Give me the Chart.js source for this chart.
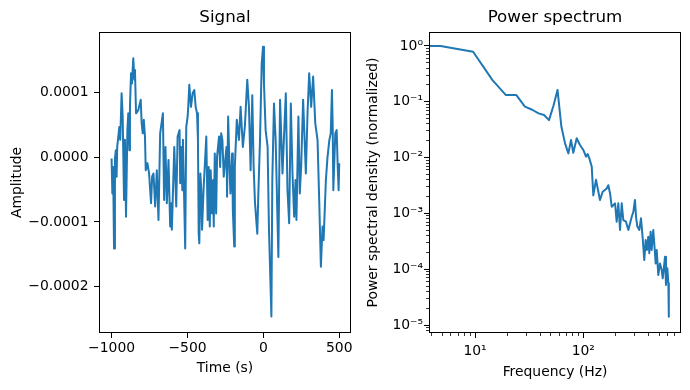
<!DOCTYPE html>
<html>
<head>
<meta charset="utf-8">
<script src="https://cdn.jsdelivr.net/npm/chart.js@4.4.1/dist/chart.umd.min.js"></script>
<style>
    html, body { margin: 0; padding: 0; background: #fff; }
    body { width: 690px; height: 390px; position: relative; overflow: hidden; }
    #signalChart { position: absolute; left: 0; top: 0; }
    #spectrumChart { position: absolute; left: 340px; top: 0; }
</style>
</head>
<body>
<canvas id="signalChart" width="360" height="390"></canvas>
<canvas id="spectrumChart" width="350" height="390"></canvas>
<script>
// Signal (time in s, amplitude)
const times = [
    -1000, -995, -990, -984, -978, -972, -967, -963, -949, -943,
    -934, -927, -918, -912, -905, -896, -890, -883, -879, -872,
    -866, -857, -850, -846, -839, -824, -808, -802, -795, -788,
    -780, -775, -764, -753, -740, -733, -724, -713, -702, -691,
    -680, -662, -654, -645, -636, -625, -614, -607, -603, -587,
    -581, -574, -565, -552, -548, -541, -534, -530, -515, -508,
    -499, -495, -488, -477, -466, -455, -446, -437, -431, -426,
    -422, -415, -409, -404, -393, -376, -367, -360, -353, -347,
    -338, -331, -327, -320, -311, -305, -292, -285, -278, -270,
    -261, -243, -239, -232, -223, -217, -206, -201, -192, -188,
    -175, -161, -150, -135, -122, -106, -95, -84, -73, -64,
    -55, -40, -33, -22, -11, -2, 4, 15, 28, 37,
    53, 59, 70, 81, 99, 110, 126, 137, 148, 159,
    170, 181, 192, 203, 212, 218, 231, 240, 249, 262,
    280, 291, 302, 315, 328, 342, 357, 368, 379, 390,
    397, 412, 423, 435, 444, 452, 457, 461, 474, 483,
    490, 496, 500
];
const amplitude = [
    -0.02e-4, -0.56e-4, -0.15e-4, -1.41e-4, -0.02e-4, 0.11e-4, -0.30e-4, 0.16e-4, 0.47e-4, 0.27e-4,
    0.99e-4, 0.63e-4, -0.66e-4, 0.27e-4, -0.92e-4, 0.42e-4, 0.68e-4, 0.11e-4, 0.78e-4, 1.30e-4,
    1.14e-4, 1.53e-4, 1.20e-4, 1.35e-4, 0.68e-4, 0.73e-4, 0.89e-4, 0.53e-4, 0.37e-4, 0.58e-4,
    0.32e-4, -0.20e-4, -0.09e-4, -0.25e-4, -0.71e-4, -0.30e-4, -0.25e-4, -0.76e-4, -0.20e-4, -0.97e-4,
    0.37e-4, 0.68e-4, -0.66e-4, 0.16e-4, -0.71e-4, -0.04e-4, -1.07e-4, -0.71e-4, -1.12e-4, 0.16e-4,
    -0.25e-4, -0.76e-4, 0.32e-4, 0.42e-4, -0.40e-4, 0.16e-4, -0.51e-4, 0.27e-4, -1.41e-4, 0.47e-4,
    0.63e-4, 0.78e-4, 1.12e-4, 0.78e-4, 0.99e-4, 1.04e-4, 0.78e-4, 0.68e-4, 0.27e-4, -1.18e-4,
    -1.33e-4, -0.25e-4, -0.51e-4, -1.12e-4, -0.45e-4, 0.32e-4, -0.97e-4, -0.15e-4, -1.07e-4, -0.20e-4,
    -0.87e-4, -0.35e-4, -1.07e-4, 0.06e-4, -0.87e-4, 0.01e-4, 0.32e-4, -0.15e-4, 0.37e-4, 0.27e-4,
    -0.30e-4, 0.16e-4, -0.61e-4, 0.63e-4, -0.15e-4, -0.56e-4, 0.06e-4, -0.82e-4, -1.38e-4, -0.15e-4,
    0.58e-4, 0.27e-4, 0.78e-4, 0.16e-4, 0.47e-4, 1.20e-4, 0.78e-4, -0.20e-4, 0.96e-4, -0.15e-4,
    -0.71e-4, -1.18e-4, -0.56e-4, 0.27e-4, 1.45e-4, 1.71e-4, 1.14e-4, 0.42e-4, 0.16e-4, -1.12e-4,
    -2.46e-4, -0.35e-4, 0.83e-4, 0.27e-4, -1.54e-4, 0.89e-4, -0.25e-4, 0.37e-4, 0.99e-4, -0.51e-4,
    -1.02e-4, 0.83e-4, -0.25e-4, -0.92e-4, -0.35e-4, -0.97e-4, 0.63e-4, -0.56e-4, -0.15e-4, 0.89e-4,
    -0.25e-4, 0.68e-4, 1.30e-4, 0.78e-4, 1.25e-4, 0.53e-4, 0.27e-4, -0.66e-4, -1.69e-4, -1.07e-4,
    -1.28e-4, -0.35e-4, 0.01e-4, 0.27e-4, 0.37e-4, 1.04e-4, 0.47e-4, -0.51e-4, 0.37e-4, 0.42e-4,
    -0.15e-4, -0.51e-4, -0.09e-4
];
const timeTicks = [-1000, -500, 0, 500];
const timeTickLabels = ['\u22121000', '\u2212500', '0', '500'];
const ampTicks = [-0.0002, -0.0001, 0, 0.0001];
const ampTickLabels = ['\u22120.0002', '\u22120.0001', '0.0000', '0.0001'];

// Power spectrum (frequency in Hz, normalized PSD)
const frequencies = [
    0, 4.8, 9.6, 14.5, 19.3, 24.1, 28.9, 33.7, 38.6, 43.4,
    48.2, 53.0, 57.8, 62.7, 67.8, 72.8, 77.0, 80.8, 86.9, 93.2,
    100, 105.9, 109.8, 113.6, 119.6, 123.7, 130.9, 142.6, 151, 164.3,
    170.2, 176.5, 182.9, 196.3, 203.3, 210.4, 218.3, 226.3, 234, 247.8,
    260.6, 280, 289.7, 300, 306.7, 315.5, 329, 341, 353.5, 365.7,
    376.7, 387, 398, 406.6, 418.6, 427.6, 442.6, 452, 465.6, 476,
    492.5, 510.5, 529.6, 541, 556, 568, 580, 597, 610, 616
];
const psd = [
    1.0, 1.0, 0.79, 0.245, 0.132, 0.132, 0.082, 0.072, 0.062, 0.058,
    0.047, 0.085, 0.163, 0.036, 0.018, 0.0119, 0.0207, 0.0122, 0.0222, 0.0168,
    0.0137, 0.0104, 0.0116, 0.0097, 0.0069, 0.0021, 0.0040, 0.00174, 0.00245, 0.0028,
    0.0032, 0.0023, 0.00132, 0.00151, 0.00071, 0.00152, 0.000505, 0.00152, 0.00076, 0.00071,
    0.000505, 0.00087, 0.00107, 0.00174, 0.00087, 0.00058, 0.000505, 0.00082, 0.000357, 0.000146,
    0.000333, 0.000221, 0.000383, 0.000193, 0.000471, 0.000221, 0.000505, 0.000291, 0.000127, 0.000221,
    0.0000787, 0.000127, 0.0000968, 0.0000687, 0.000111, 0.000167, 0.0000521, 0.000104, 0.0000558, 0.0000141
];
const freqTicks = [10, 100];
const freqTickLabels = ['10\u00b9', '10\u00b2'];
const psdTicks = [1e-5, 1e-4, 1e-3, 1e-2, 1e-1, 1];
const psdTickLabels = ['10\u207b\u2075', '10\u207b\u2074', '10\u207b\u00b3', '10\u207b\u00b2', '10\u207b\u00b9', '10\u2070'];

const FONT = "'DejaVu Sans', sans-serif";
Chart.defaults.font.family = FONT;
Chart.defaults.font.size = 13.9;
Chart.defaults.color = '#000';

// minor ticks of a log axis between lo and hi (2..9 x 10^n)
function logMinorTicks(lo, hi) {
    const out = [];
    for (let e = Math.floor(Math.log10(lo)); e <= Math.ceil(Math.log10(hi)); e++) {
        for (let m = 2; m <= 9; m++) {
            const v = m * Math.pow(10, e);
            if (v >= lo && v <= hi) out.push({ value: v });
        }
    }
    return out;
}

// box around the axes like matplotlib spines
const framePlugin = {
    id: 'frame',
    afterDatasetsDraw(chart) {
        const { ctx, chartArea: a } = chart;
        ctx.save();
        ctx.strokeStyle = '#000';
        ctx.lineWidth = 1;
        ctx.strokeRect(a.left + 0.5, a.top + 0.5, a.right - a.left - 1, a.bottom - a.top - 1);
        ctx.restore();
    }
};

const tickGrid = (len, width) => ({
    display: true,
    drawOnChartArea: false,
    drawTicks: true,
    tickLength: len,
    tickColor: '#000',
    tickWidth: width
});

const titleAxis = (text) => ({
    type: 'linear',
    position: 'top',
    display: true,
    ticks: { display: false },
    grid: { display: false },
    border: { display: false },
    title: { display: true, text: text, font: { size: 16.7 }, padding: { top: 7.4, bottom: 0 } },
    afterFit: s => { s.height = 32; }
});

const baseOptions = {
    responsive: false,
    devicePixelRatio: 1,
    animation: false,
    events: [],
    plugins: { legend: { display: false }, tooltip: { enabled: false } }
};

// Signal chart
new Chart(document.getElementById('signalChart'), {
    type: 'line',
    data: {
        datasets: [{
            data: times.map((t, i) => ({ x: t, y: amplitude[i] })),
            borderColor: '#1f77b4',
            borderWidth: 2,
            borderJoinStyle: 'round',
            pointRadius: 0,
            tension: 0,
            clip: 0,
            xAxisID: 'x',
            yAxisID: 'y'
        }]
    },
    options: {
        ...baseOptions,
        layout: { padding: { left: 0, right: 9, top: 0, bottom: 0 } },
        scales: {
            top: titleAxis('Signal'),
            x: {
                type: 'linear',
                position: 'bottom',
                min: -1083,
                max: 577.5,
                afterBuildTicks: s => { s.ticks = timeTicks.map(v => ({ value: v })); },
                ticks: { autoSkip: false, maxRotation: 0, padding: 2, callback: (v, i) => timeTickLabels[i] },
                grid: tickGrid(5, 1),
                border: { display: false },
                title: { display: true, text: 'Time (s)', padding: { top: 0, bottom: 13.3 } },
                afterFit: s => { s.height = 57; }
            },
            y: {
                type: 'linear',
                position: 'left',
                min: -2.716e-4,
                max: 1.937e-4,
                afterBuildTicks: s => { s.ticks = ampTicks.map(v => ({ value: v })); },
                ticks: { autoSkip: false, padding: 5.5, callback: (v, i) => ampTickLabels[i] },
                grid: tickGrid(5, 1),
                border: { display: false },
                title: { display: true, text: 'Amplitude', padding: { top: 8.6, bottom: 0 } },
                afterFit: s => { s.width = 99; }
            }
        }
    },
    plugins: [framePlugin]
});

// Power spectrum chart
const fMin = 3.76, fMax = 798;
const pMin = 7.2e-6, pMax = 1.78;
new Chart(document.getElementById('spectrumChart'), {
    type: 'line',
    data: {
        datasets: [{
            data: frequencies.map((f, i) => ({ x: f, y: psd[i] })),
            borderColor: '#1f77b4',
            borderWidth: 2,
            borderJoinStyle: 'round',
            pointRadius: 0,
            tension: 0,
            clip: 0,
            xAxisID: 'x',
            yAxisID: 'y'
        }]
    },
    options: {
        ...baseOptions,
        layout: { padding: { left: 0, right: 9, top: 0, bottom: 0 } },
        scales: {
            top: titleAxis('Power spectrum'),
            x: {
                type: 'logarithmic',
                position: 'bottom',
                min: fMin,
                max: fMax,
                afterBuildTicks: s => { s.ticks = freqTicks.map(v => ({ value: v })); },
                ticks: { autoSkip: false, maxRotation: 0, padding: 4.7, callback: (v, i) => freqTickLabels[i] },
                grid: tickGrid(5, 1),
                border: { display: false },
                title: { display: true, text: 'Frequency (Hz)', padding: { top: 0, bottom: 9.6 } },
                afterFit: s => { s.height = 57; }
            },
            xMinor: {
                type: 'logarithmic',
                position: 'bottom',
                weight: -1,
                min: fMin,
                max: fMax,
                afterBuildTicks: s => { s.ticks = logMinorTicks(fMin, fMax); },
                ticks: { display: false, autoSkip: false },
                grid: tickGrid(3, 0.8),
                border: { display: false },
                afterFit: s => { s.height = 0; }
            },
            y: {
                type: 'logarithmic',
                position: 'left',
                min: pMin,
                max: pMax,
                afterBuildTicks: s => { s.ticks = psdTicks.map(v => ({ value: v })); },
                ticks: { autoSkip: false, padding: 1, callback: (v, i) => psdTickLabels[i] },
                grid: tickGrid(5, 1),
                border: { display: false },
                title: { display: true, text: 'Power spectral density (normalized)', padding: { top: 24.6, bottom: 0 } },
                afterFit: s => { s.width = 89; }
            },
            yMinor: {
                type: 'logarithmic',
                position: 'left',
                weight: -1,
                min: pMin,
                max: pMax,
                afterBuildTicks: s => { s.ticks = logMinorTicks(pMin, pMax); },
                ticks: { display: false, autoSkip: false },
                grid: tickGrid(3, 0.8),
                border: { display: false },
                afterFit: s => { s.width = 0; }
            }
        }
    },
    plugins: [framePlugin]
});
</script>
</body>
</html>
